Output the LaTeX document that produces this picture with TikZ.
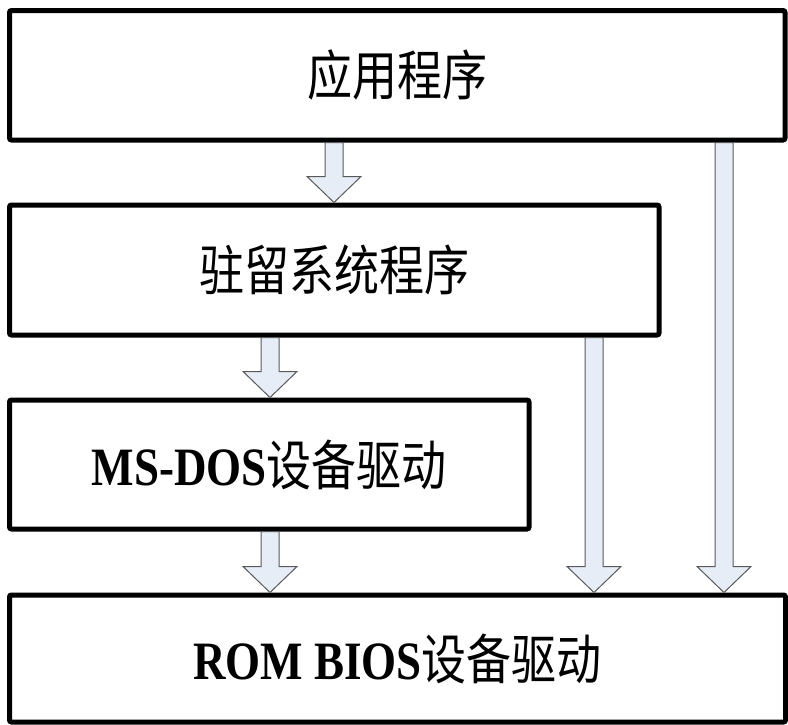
\documentclass[tikz,border=0pt]{standalone}
\usepackage{fontspec}
\setmainfont{Liberation Serif}
\newfontfamily\cjk{Noto Sans CJK SC}
\usetikzlibrary{calc}
\definecolor{arrowfill}{HTML}{E6EDF7}
\definecolor{arrowline}{HTML}{595959}
\newcommand{\tallbox}[1]{\scalebox{1}[1.2]{#1}}

\begin{document}
\begin{tikzpicture}
  [
    x = 1pt, y = -1pt,
    layer/.style = {shape=rectangle, rounded corners=2pt, draw,
                    line width=5pt, fill=white, inner sep=0pt,
                    font=\fontsize{45}{54}\selectfont},
    % hollow block arrow between two layers
    flow/.style  = {draw=arrowline, fill=arrowfill, line width=1pt,
                    line join=miter}
    ]
    \useasboundingbox (0,0) rectangle (788,724);
    \node [layer, minimum width=775.5pt, minimum height=129.5pt]
      (app) at (397.25,75.25) {\tallbox{\cjk 应用程序}};
    \node [layer, minimum width=649.5pt, minimum height=130pt]
      (tsr) at (334.25,270) {\tallbox{\cjk 驻留系统程序}};
    \node [layer, minimum width=519.5pt, minimum height=129pt]
      (dos) at (269.25,464.5) {\tallbox{{\bfseries MS-DOS}{\cjk 设备驱动}}};
    \node [layer, minimum width=776pt, minimum height=127pt]
      (bios) at (397.5,658.5) {\tallbox{{\bfseries ROM BIOS}{\cjk 设备驱动}}};
    \foreach \xpos/\from/\to in {334/app/tsr, 270/tsr/dos, 270/dos/bios,
                                 594/tsr/bios, 724/app/bios}
      \draw [flow] let \p1 = (\xpos,0 |- \from.south),
                       \p2 = (\xpos,0 |- \to.north) in
        (\x1-9pt,\y1) -- (\x1+9pt,\y1) -- (\x1+9pt,\y2+26pt)
        -- (\x1+27pt,\y2+26pt) -- (\x1,\y2) -- (\x1-27pt,\y2+26pt)
        -- (\x1-9pt,\y2+26pt) -- cycle;
\end{tikzpicture}
\end{document}
